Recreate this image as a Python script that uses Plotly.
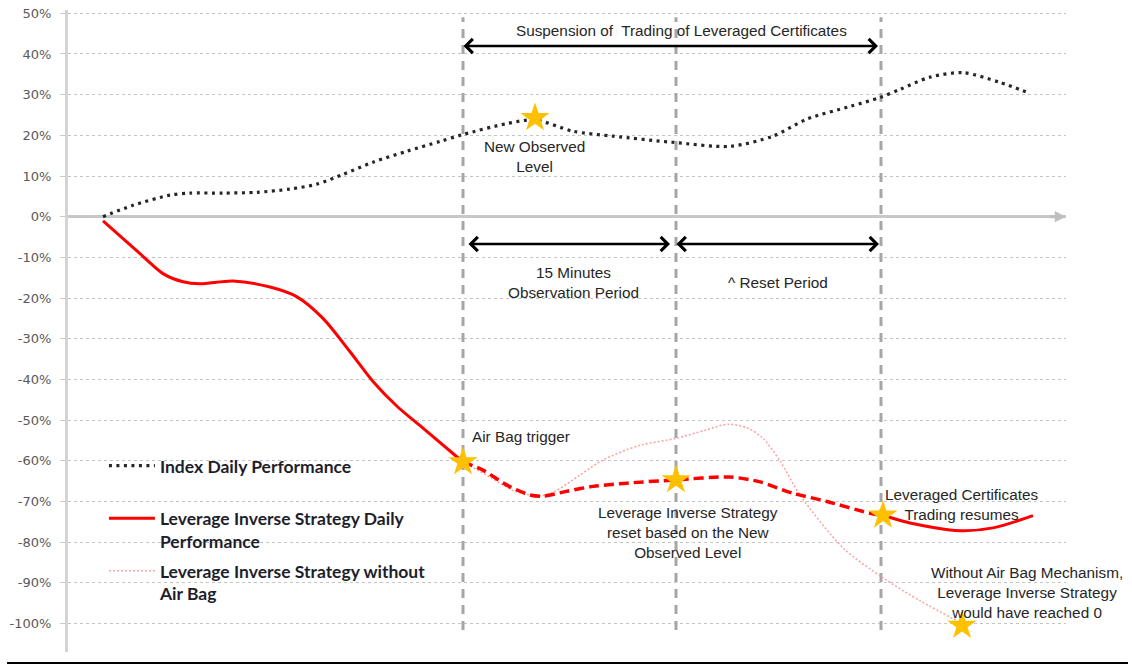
import plotly.graph_objects as go

# ---- data (x in arbitrary time units, y as fraction) ----
index_x = [35, 65, 102, 122, 155, 189, 222, 249, 275, 305, 339, 372, 395, 439, 467, 505, 545, 604, 662, 705, 739, 782, 812, 832, 862, 895, 932, 960]
index_y = [0.0, 0.028, 0.053, 0.058, 0.058, 0.06, 0.068, 0.08, 0.104, 0.134, 0.161, 0.185, 0.202, 0.229, 0.238, 0.21, 0.198, 0.183, 0.173, 0.198, 0.24, 0.271, 0.293, 0.313, 0.343, 0.354, 0.33, 0.305]

lev_x = [35, 72, 95, 115, 132, 165, 202, 229, 255, 282, 305, 329, 355, 395]
lev_y = [-0.01, -0.091, -0.14, -0.16, -0.165, -0.158, -0.173, -0.197, -0.25, -0.332, -0.405, -0.466, -0.52, -0.603]

reset_x = [395, 415, 439, 462, 475, 499, 525, 559, 608, 662, 692, 725, 759, 802, 815]
reset_y = [-0.603, -0.623, -0.66, -0.684, -0.687, -0.675, -0.663, -0.655, -0.647, -0.64, -0.652, -0.68, -0.70, -0.729, -0.734]

resume_x = [815, 842, 892, 925, 965]
resume_y = [-0.734, -0.753, -0.772, -0.765, -0.735]

noairbag_x = [395, 422, 447, 472, 487, 512, 535, 572, 608, 637, 660, 680, 695, 712, 732, 775, 815, 852, 894]
noairbag_y = [-0.603, -0.64, -0.675, -0.686, -0.675, -0.635, -0.598, -0.562, -0.545, -0.525, -0.51, -0.52, -0.545, -0.6, -0.684, -0.814, -0.888, -0.944, -1.0]

star_x = [395, 467, 608, 815, 894]
star_y = [-0.603, 0.243, -0.647, -0.734, -1.005]

event_x = [395, 608, 813]

tick_vals = [0.5, 0.4, 0.3, 0.2, 0.1, 0.0, -0.1, -0.2, -0.3, -0.4, -0.5, -0.6, -0.7, -0.8, -0.9, -1.0]
tick_text = ["50%", "40%", "30%", "20%", "10%", "0%", "-10%", "-20%", "-30%", "-40%",
             "-50%", "-60%", "-70%", "-80%", "-90%", "-100%"]

names = ["Index Daily Performance<br>\u00a0",
         "Leverage Inverse Strategy Daily<br>Performance",
         "Leverage Inverse Strategy without<br>Air Bag"]

RED = "#ff0000"
TXT = "#262626"
FONT = "Liberation Sans, Arial, sans-serif"

fig = go.Figure()

fig.add_trace(go.Scatter(x=index_x, y=index_y, mode="lines", name=names[0],
                         line=dict(color="#262626", width=3.2, dash="3px,4.5px", shape="spline", smoothing=0.8),
                         legendgroup="a", hoverinfo="skip"))
fig.add_trace(go.Scatter(x=lev_x, y=lev_y, mode="lines", name=names[1],
                         line=dict(color=RED, width=3, shape="spline", smoothing=0.8),
                         legendgroup="b", hoverinfo="skip"))
fig.add_trace(go.Scatter(x=noairbag_x, y=noairbag_y, mode="lines", name=names[2],
                         line=dict(color="#ff9f9f", width=1.5, dash="2px,2px", shape="spline", smoothing=0.8),
                         legendgroup="c", hoverinfo="skip"))
fig.add_trace(go.Scatter(x=reset_x, y=reset_y, mode="lines", showlegend=False,
                         line=dict(color=RED, width=3.5, dash="10px,5px", shape="spline", smoothing=0.8),
                         hoverinfo="skip"))
fig.add_trace(go.Scatter(x=resume_x, y=resume_y, mode="lines", showlegend=False,
                         line=dict(color=RED, width=3, shape="spline", smoothing=0.8),
                         hoverinfo="skip"))
fig.add_trace(go.Scatter(x=star_x, y=star_y, mode="markers", showlegend=False,
                         marker=dict(symbol="star", size=22, color="#ffc000", line=dict(width=0)),
                         cliponaxis=False, hoverinfo="skip"))

shapes = []
for ex in event_x:
    shapes.append(dict(type="line", xref="x", yref="y", x0=ex, x1=ex, y0=-1.016, y1=0.49,
                       line=dict(color="#a6a6a6", width=3, dash="9px,7px"), layer="between"))
# bottom border line
shapes.append(dict(type="line", xref="paper", yref="paper", x0=-0.0611, x1=1.0621, y0=-0.0171, y1=-0.0171,
                   line=dict(color="#000000", width=2)))

annotations = []
# x-axis arrow head
annotations.append(dict(x=998, y=0, ax=980, ay=0, xref="x", yref="y", axref="x", ayref="y",
                        text="", showarrow=True, arrowhead=2, arrowsize=0.75, arrowwidth=3,
                        arrowcolor="#bfbfbf"))
# double-headed period arrows
for (x0, x1, yy) in [(394, 810, 0.4196), (399, 602, -0.0671), (607, 811, -0.0671)]:
    annotations.append(dict(x=x1, y=yy, ax=x0, ay=yy, xref="x", yref="y", axref="x", ayref="y",
                            text="", showarrow=True, arrowhead=4, startarrowhead=4, arrowside="end+start",
                            arrowsize=1.1, startarrowsize=1.1, arrowwidth=2.5, arrowcolor="#000000"))

def note(x, y, text, xanchor="center"):
    annotations.append(dict(x=x, y=y, xref="x", yref="y", text=text, showarrow=False,
                            xanchor=xanchor, yanchor="middle", align="center",
                            font=dict(family=FONT, size=15.3, color=TXT)))

note(613, 0.4565, "Suspension of\u00a0 Trading of Leveraged Certificates")
note(466, 0.1492, "New Observed<br>Level")
note(505, -0.161, "15 Minutes<br>Observation Period")
note(710, -0.161, "^ Reset Period")
note(402, -0.5415, "Air Bag trigger", xanchor="left")
note(620, -0.7751, "Leverage Inverse Strategy<br>reset based on the New<br>Observed Level")
note(893, -0.7075, "Leveraged Certificates<br>Trading resumes")
note(959, -0.9226, "Without Air Bag Mechanism,<br>Leverage Inverse Strategy<br>would have reached 0")

fig.update_layout(
    width=1132, height=666,
    margin=dict(l=68, r=66, t=10, b=14, autoexpand=False),
    plot_bgcolor="white", paper_bgcolor="white",
    shapes=shapes, annotations=annotations,
    showlegend=True,
    legend=dict(x=0.036, y=0.318, xanchor="left", yanchor="top",
                bgcolor="rgba(0,0,0,0)", borderwidth=0,
                font=dict(family="Lato, sans-serif", size=17.5, color="#1e1e2a", weight="bold"),
                itemwidth=46, valign="top", traceorder="grouped", tracegroupgap=4),
    xaxis=dict(range=[0, 998], showgrid=False, zeroline=False, showline=False,
               showticklabels=False, ticks="", automargin=False),
    yaxis=dict(range=[-1.0701, 0.5081], tickvals=tick_vals, ticktext=tick_text,
               automargin=False,
               showgrid=True, gridcolor="#c4c4c4", griddash="dot", gridwidth=1,
               zeroline=True, zerolinecolor="#c8c8c8", zerolinewidth=3,
               showline=True, linecolor="#d4d4d4", linewidth=3,
               ticks="outside", ticklen=5, tickcolor="#c8c8c8", tickwidth=1,
               ticklabelstandoff=6, ticklabeloverflow="allow",
               tickfont=dict(family="DejaVu Sans, sans-serif", size=13, color="#595959")),
)

fig.write_html("out.html", config={"displayModeBar": False},
               post_script="document.body.style.margin='0px';")
